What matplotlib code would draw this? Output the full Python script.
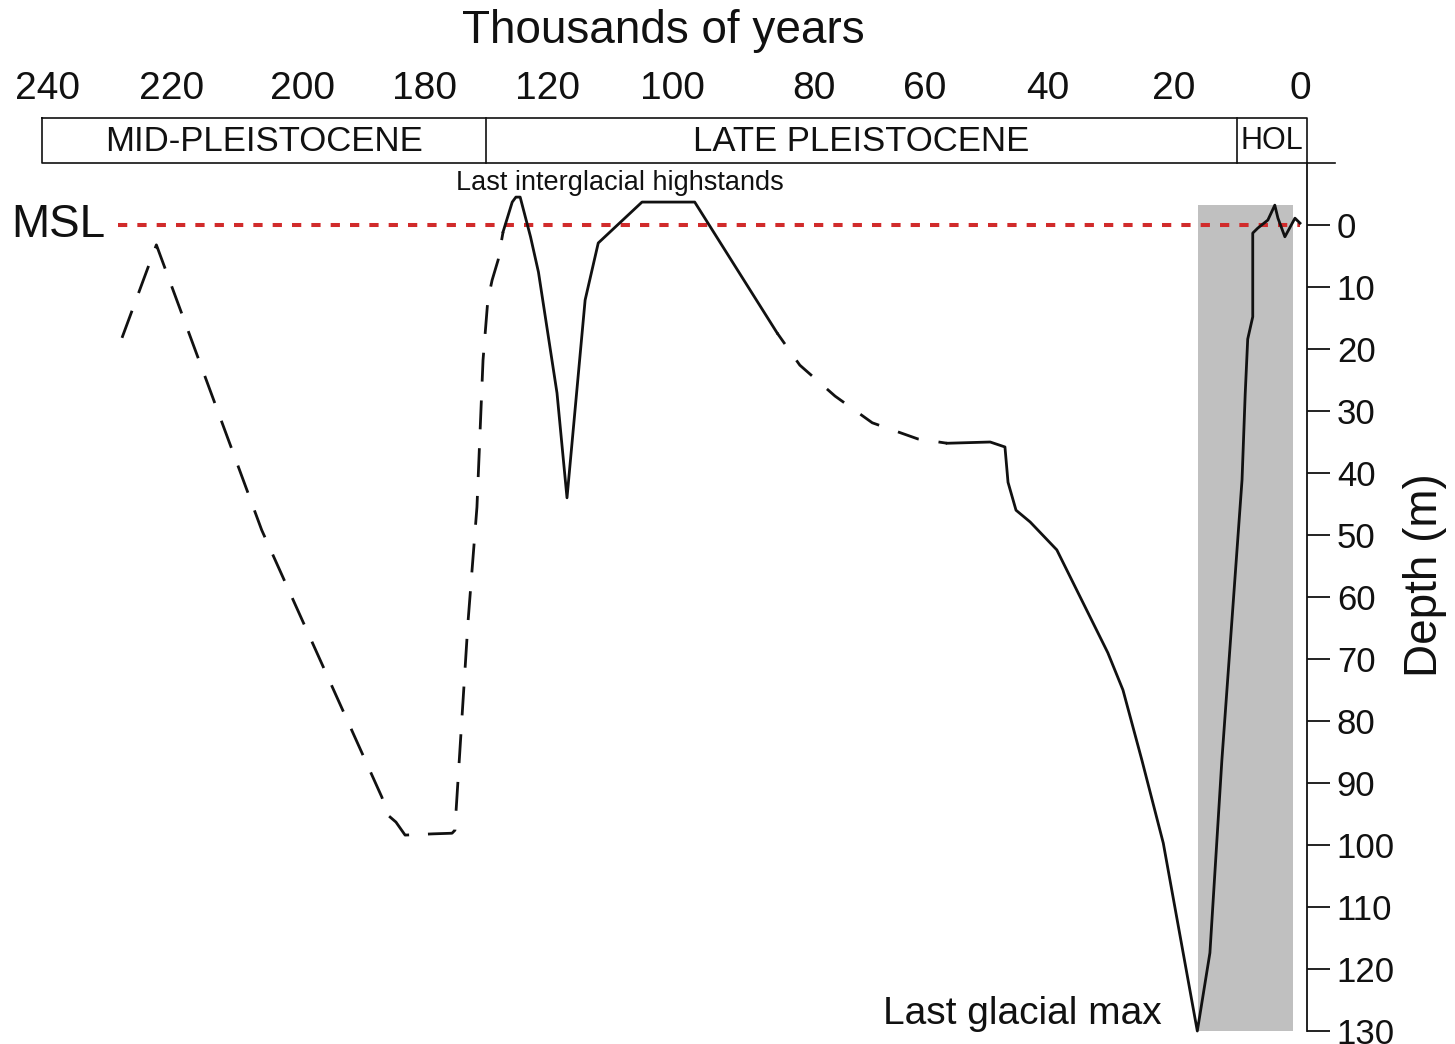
import numpy as np
import matplotlib
matplotlib.use("Agg")
import matplotlib.pyplot as plt
import matplotlib.transforms as mtransforms

plt.rcParams['font.family'] = ['Liberation Sans', 'DejaVu Sans']

# ---- axis definitions -------------------------------------------------------
age_ticks = [240, 220, 200, 180, 120, 100, 80, 60, 40, 20, 0]
age_tick_labels = [str(a) for a in age_ticks]
depth_ticks = [0, 10, 20, 30, 40, 50, 60, 70, 80, 90, 100, 110, 120, 130]
depth_tick_labels = [str(d) for d in depth_ticks]

# ---- sea-level curve (age in ka, depth below MSL in m) -----------------------
# MIS 7-6 reconstruction (uncertain, dashed)
mis7_6_age = [228.0, 222.5, 206.2, 186.9, 185.9, 184.6, 183.1, 172.7, 157.4,
              155.0, 154.2, 144.5, 137.3, 132.4, 129.7, 129.0, 128.0, 127.2]
mis7_6_depth = [18.2, 3.2, 49.2, 92.3, 95.2, 96.3, 98.4, 98.2, 98.1,
                97.6, 94.7, 64.0, 45.5, 21.8, 12.1, 8.9, 5.6, 1.1]
# MIS 5 highstands (solid)
mis5_age = [127.2, 125.7, 125.1, 124.4, 122.7, 121.4, 118.4, 116.8,
            113.9, 111.8, 104.8, 96.8, 85.2]
mis5_depth = [1.1, -3.7, -4.5, -4.5, 1.9, 7.6, 27.1, 44.0,
              12.1, 2.9, -3.7, -3.7, 17.4]
# MIS 4 (uncertain, dashed)
mis4_age = [85.2, 82.0, 76.2, 69.5, 61.3, 56.4]
mis4_depth = [17.4, 22.6, 27.6, 31.9, 34.5, 35.2]
# MIS 3 - LGM - Holocene (solid)
mis3_1_age = [56.4, 49.4, 47.0, 46.5, 45.2, 42.9, 38.6, 30.5, 28.1, 25.1,
              21.7, 16.3, 14.3, 12.4, 9.2, 8.7, 8.3, 7.5, 7.5, 6.7,
              5.1, 4.0, 3.5, 2.4, 0.8, 0.0]
mis3_1_depth = [35.2, 35.0, 35.8, 41.5, 46.0, 47.9, 52.4, 69.0, 75.0, 86.3,
                99.7, 130.0, 117.4, 86.3, 41.1, 27.3, 18.4, 14.8, 1.3, 0.5,
                -0.8, -3.2, -1.1, 1.9, -1.1, -0.3]

# Post-glacial transgression band
band_age = [16.2, 1.1]
band_depth = (-3.2, 130.0)

# Mean sea level reference
msl_age = [228.6, 0.0]
msl_depth = [0.0, 0.0]

# Chronostratigraphic periods: (label, older bound, younger bound)
periods = [("MID-PLEISTOCENE", None, 130), ("LATE PLEISTOCENE", 130, 10),
           ("HOL", 10, None)]

# ---- broken time scale ------------------------------------------------------
scale_age = np.array([-20, 0, 20, 40, 60, 80, 100, 120, 130, 180, 200, 220, 240, 260], float)
scale_pos = np.array([1426, 1300, 1174, 1048, 925, 814, 672, 547, 486, 424, 302, 172, 47, -78], float)


def fwd(a):
    return -np.interp(a, scale_age, scale_pos)


def inv(v):
    return np.interp(-np.asarray(v, float), scale_pos[::-1], scale_age[::-1])


W, H = 1455, 1044
fig = plt.figure(figsize=(W / 100, H / 100), dpi=100)
ax = fig.add_axes([42 / W, 1 - 1032 / H, (1307 - 42) / W, (1032 - 118) / H])
ax.set_xscale('function', functions=(fwd, inv))
ax.set_xlim(float(inv(-42)), float(inv(-1307)))
ax.set_ylim(130.16, -17.26)

ink = '#111111'
red = '#d12b2b'
lw = 2.0

ax.fill_between(band_age, band_depth[0], band_depth[1], color='#c0c0c0',
                linewidth=0, zorder=1)
ax.plot(msl_age, msl_depth, color=red, lw=2.9, linestyle=(0, (2.3, 2.5)),
        zorder=2)

ax.plot(mis7_6_age, mis7_6_depth, color=ink, lw=lw,
        linestyle=(0, (10.4, 6.8)), zorder=3)
ax.plot(mis5_age, mis5_depth, color=ink, lw=lw, zorder=3)
ax.plot(mis4_age, mis4_depth, color=ink, lw=lw,
        linestyle=(3, (7.9, 7.2)), zorder=3)
ax.plot(mis3_1_age, mis3_1_depth, color=ink, lw=lw, zorder=3, clip_on=False)

# ---- axes styling ---------------------------------------------------------------
for side in ('left', 'top', 'bottom'):
    ax.spines[side].set_visible(False)
ax.spines['right'].set_bounds(-10, 130)
ax.spines['right'].set_linewidth(1.3)
ax.spines['right'].set_color(ink)

ax.yaxis.set_ticks_position('right')
ax.set_yticks(depth_ticks)
ax.set_yticklabels(depth_tick_labels)
ax.tick_params(axis='y', direction='out', length=16.5, width=1.3, pad=5,
               labelsize=25, colors=ink)

ax.xaxis.set_ticks_position('top')
ax.set_xticks(age_ticks)
ax.set_xticklabels(age_tick_labels)
ax.tick_params(axis='x', length=0, pad=8, labelsize=28, colors=ink)
ax.minorticks_off()

# ---- period box -------------------------------------------------------------------
bt = mtransforms.blended_transform_factory(ax.transAxes, ax.transData)
box_top, box_bot = -17.26, -10.0
ax.plot([0, 1, 1, 0, 0], [box_top, box_top, box_bot, box_bot, box_top],
        transform=bt, color=ink, lw=1.2, clip_on=False)
ax.plot([1, 1.0221], [box_bot, box_bot], transform=bt, color=ink, lw=1.2,
        clip_on=False)
xlo, xhi = ax.get_xlim()
for label, older, younger in periods:
    a0 = xlo if older is None else older
    a1 = xhi if younger is None else younger
    if younger is not None:
        ax.plot([younger, younger], [box_top, box_bot], color=ink, lw=1.2,
                clip_on=False)
    p0, p1 = fwd(a0), fwd(a1)
    mid = float(inv((p0 + p1) / 2))
    size = 22 if label == "HOL" else 25
    ax.text(mid, (box_top + box_bot) / 2 + 0.1, label, ha='center',
            va='center', fontsize=size, color=ink)

# ---- annotations --------------------------------------------------------------------
ax.text(0.4909, 1.0955, "Thousands of years", transform=ax.transAxes,
        ha='center', va='center', fontsize=33, color=ink)
ax.text(1.0933, 0.5, "Depth (m)", transform=ax.transAxes, rotation=90,
        ha='center', va='center', fontsize=33, color=ink)
ax.text(0.0126, 0.0, "MSL", transform=bt, ha='center', va='center',
        fontsize=33, color=ink)
ax.text(108.3, -6.8, "Last interglacial highstands", ha='center',
        va='center', fontsize=19.5, color=ink)
ax.text(44.1, 127.2, "Last glacial max", ha='center', va='center',
        fontsize=28, color=ink)

fig.savefig('out.png', dpi=100)
